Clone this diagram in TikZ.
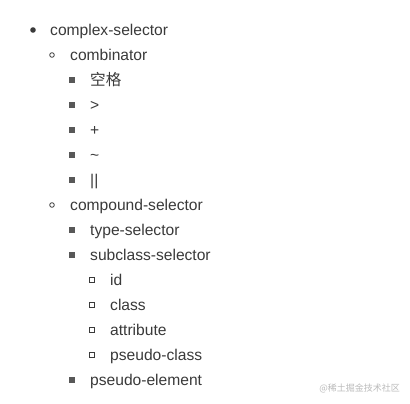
\documentclass[tikz,border=0pt]{standalone}
\usepackage{fontspec}
\setmainfont{Liberation Sans}
\newfontfamily\cjk{Noto Sans CJK SC}
\definecolor{txt}{HTML}{3A3A3A}
\definecolor{wm}{HTML}{BBBBBB}
\begin{document}
\begin{tikzpicture}[x=1pt,y=-1pt,
  item/.style={anchor=base west,inner sep=0pt,text=txt,font=\fontsize{15.6}{17}\selectfont},
  dotA/.style={fill=txt,draw=none},
  dotB/.style={draw=txt,line width=0.8pt,fill=none},
  sqC/.style={fill=txt!85,draw=none},
  sqD/.style={draw=txt,line width=0.8pt,fill=none}]
\useasboundingbox (0,0) rectangle (410,404);
\fill[white] (0,0) rectangle (410,404);
% level 1
\fill[dotA] (33,30) circle (2.8);
\node[item] (n1) at (50,35.5) {complex-selector};
% level 2
\draw[dotB] (52,55) circle (2.3);
\node[item] (n2) at (70,60.5) {combinator};
\fill[sqC] (69,77) rectangle (75,83);
\node[item] (n3) at (90,85.5) {\cjk 空格};
\fill[sqC] (69,102) rectangle (75,108);
\node[item] (n4) at (90,110.5) {>};
\fill[sqC] (69,127) rectangle (75,133);
\node[item] (n5) at (90,135.5) {+};
\fill[sqC] (69,152) rectangle (75,158);
\node[item] (n6) at (90,160.5) {\char"007E};
\fill[sqC] (69,177) rectangle (75,183);
\node[item] (n7) at (90,185.5) {||};
\draw[dotB] (52,205) circle (2.3);
\node[item] (n8) at (70,210.5) {compound-selector};
\fill[sqC] (69,227) rectangle (75,233);
\node[item] (n9) at (90,235.5) {type-selector};
\fill[sqC] (69,252) rectangle (75,258);
\node[item] (n10) at (90,260.5) {subclass-selector};
\draw[sqD] (89.5,277.5) rectangle (94.5,282.5);
\node[item] (n11) at (110,285.5) {id};
\draw[sqD] (89.5,302.5) rectangle (94.5,307.5);
\node[item] (n12) at (110,310.5) {class};
\draw[sqD] (89.5,327.5) rectangle (94.5,332.5);
\node[item] (n13) at (110,335.5) {attribute};
\draw[sqD] (89.5,352.5) rectangle (94.5,357.5);
\node[item] (n14) at (110,360.5) {pseudo-class};
\fill[sqC] (69,377) rectangle (75,383);
\node[item] (n15) at (90,385.5) {pseudo-element};
% watermark
\node[anchor=base east,inner sep=0pt,text=wm,font=\cjk\fontsize{9}{10}\selectfont] (wm) at (400,391) {@稀土掘金技术社区};
\end{tikzpicture}
\end{document}
